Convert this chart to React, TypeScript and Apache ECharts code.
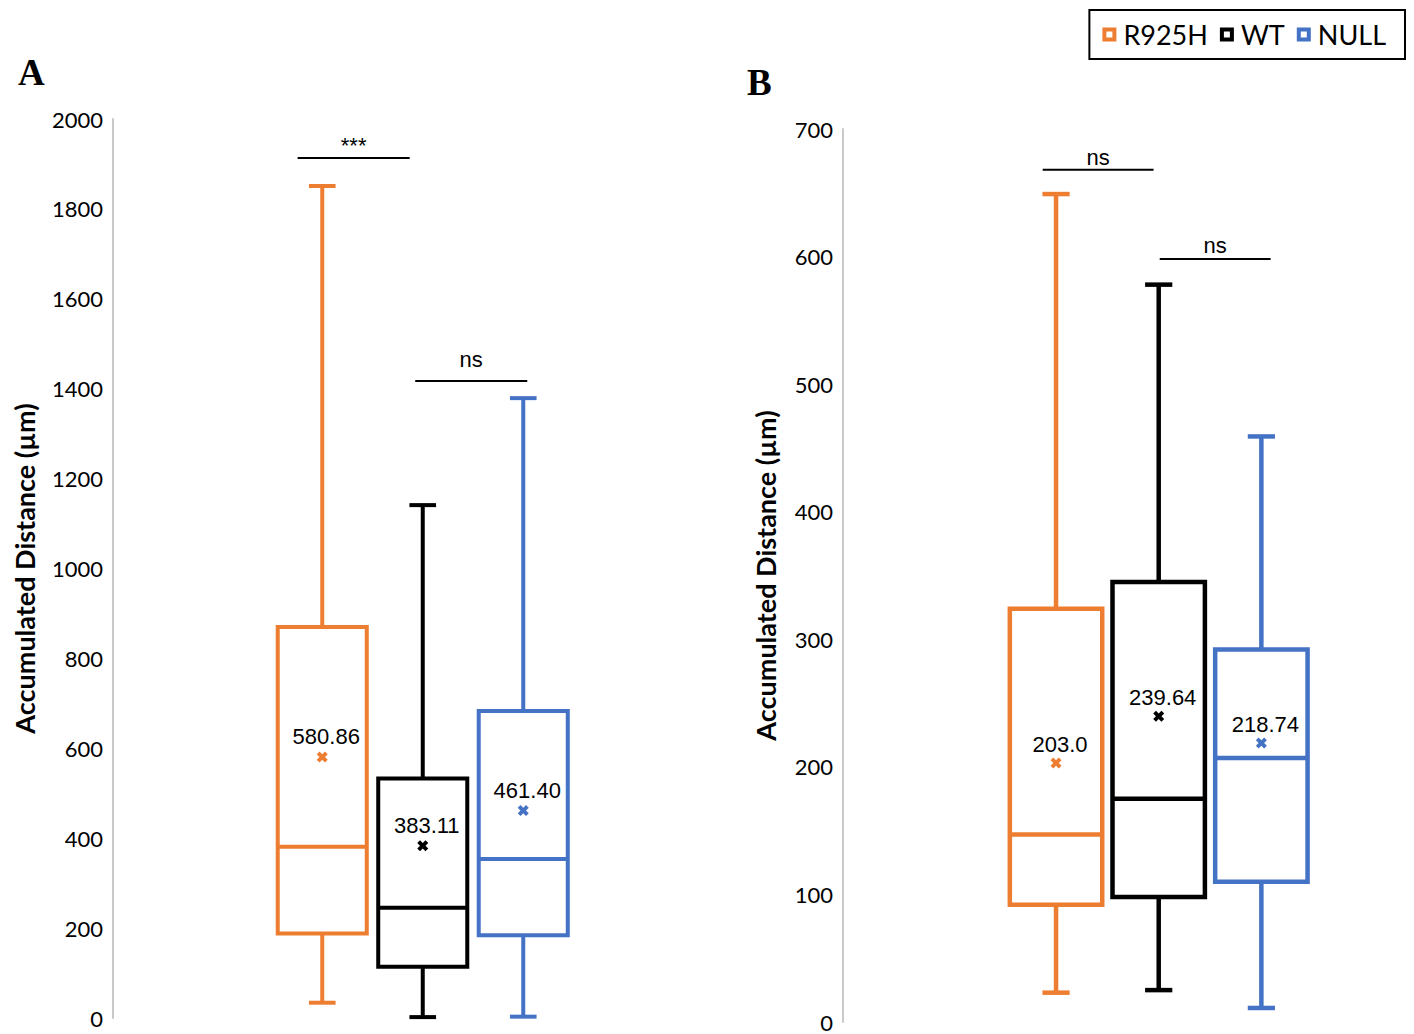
import React, { useEffect, useRef } from 'react';
import * as echarts from 'echarts';

// ---------- data ----------
const groups = ['R925H', 'WT', 'NULL'];
const groupColors = ['#ED7D31', '#000000', '#4472C4'];

// Panel A
const minA = [34, 2, 3];
const q1A = [188, 114, 184];
const medianA = [381, 245, 354];
const q3A = [870, 533, 683];
const maxA = [1851, 1141, 1379];
const meanA = [580.86, 383.11, 461.4];
const meanLabelA = ['580.86', '383.11', '461.40'];
const axisMaxA = 2000;
const axisStepA = 200;

// Panel B
const minB = [23, 25, 11];
const q1B = [92, 98, 110];
const medianB = [147, 175, 207];
const q3B = [324, 345, 292];
const maxB = [649, 578, 459];
const meanB = [203.0, 239.64, 218.74];
const meanLabelB = ['203.0', '239.64', '218.74'];
const axisMaxB = 700;
const axisStepB = 100;

// significance annotations (x in category units relative to first box, y in data units)
const sigTextA = ['***', 'ns'];
const sigFromA = [-0.245, 0.925];
const sigToA = [0.87, 2.04];
const sigLineA = [1913, 1417];
const sigLabelA = [1940, 1466];

const sigTextB = ['ns', 'ns'];
const sigFromB = [-0.13, 1.01];
const sigToB = [0.95, 2.09];
const sigLineB = [668, 598];
const sigLabelB = [678, 609];

const yTitle = 'Accumulated Distance (µm)';

const CROSS = 'path://M0,2.5 L2.5,0 L5,2.5 L7.5,0 L10,2.5 L7.5,5 L10,7.5 L7.5,10 L5,7.5 L2.5,10 L0,7.5 L2.5,5 Z';
const HOLLOW = 'path://M0,0H14V14H0Z M4,4V10H10V4Z';

function boxRenderer(boxRatio: number, capRatio: number, lw: number) {
  return (params: any, api: any) => {
    const c = api.value(0);
    const pMin = api.coord([c, api.value(1)]);
    const pQ1 = api.coord([c, api.value(2)]);
    const pMed = api.coord([c, api.value(3)]);
    const pQ3 = api.coord([c, api.value(4)]);
    const pMax = api.coord([c, api.value(5)]);
    const band = api.size([1, 0])[0];
    const bw = band * boxRatio;
    const cw = band * capRatio;
    const x = pMin[0];
    const color = api.visual('color');
    const ls = { stroke: color, lineWidth: lw, fill: 'none' };
    return {
      type: 'group',
      children: [
        { type: 'line', shape: { x1: x, y1: pMax[1], x2: x, y2: pQ3[1] }, style: ls },
        { type: 'line', shape: { x1: x, y1: pQ1[1], x2: x, y2: pMin[1] }, style: ls },
        { type: 'line', shape: { x1: x - cw / 2, y1: pMax[1], x2: x + cw / 2, y2: pMax[1] }, style: ls },
        { type: 'line', shape: { x1: x - cw / 2, y1: pMin[1], x2: x + cw / 2, y2: pMin[1] }, style: ls },
        {
          type: 'rect',
          shape: { x: x - bw / 2, y: pQ3[1], width: bw, height: pQ1[1] - pQ3[1] },
          style: { stroke: color, lineWidth: lw, fill: '#ffffff' },
        },
        { type: 'line', shape: { x1: x - bw / 2, y1: pMed[1], x2: x + bw / 2, y2: pMed[1] }, style: ls },
      ],
    };
  };
}

function sigRenderer(texts: string[]) {
  return (params: any, api: any) => {
    const p0 = api.coord([0, api.value(2)]);
    const band = api.size([1, 0])[0];
    const x1 = p0[0] + api.value(0) * band;
    const x2 = p0[0] + api.value(1) * band;
    const ty = api.coord([0, api.value(3)])[1];
    return {
      type: 'group',
      children: [
        { type: 'line', shape: { x1, y1: p0[1], x2, y2: p0[1] }, style: { stroke: '#000', lineWidth: 2 } },
        {
          type: 'text',
          x: (x1 + x2) / 2,
          y: ty,
          style: {
            text: texts[params.dataIndex],
            fill: '#000',
            fontSize: 22,
            fontFamily: 'Liberation Sans',
            align: 'center',
            verticalAlign: 'middle',
          },
        },
      ],
    };
  };
}

function panelSeries(
  idx: number,
  mins: number[], q1s: number[], meds: number[], q3s: number[], maxs: number[],
  means: number[], meanLabels: string[],
  sigFrom: number[], sigTo: number[], sigLine: number[], sigLabel: number[], sigText: string[],
  boxRatio: number, lw: number, labelDist: number
) {
  const s: any[] = groups.map((g, i) => ({
    type: 'custom',
    name: g,
    xAxisIndex: idx,
    yAxisIndex: idx,
    itemStyle: { color: groupColors[i] },
    renderItem: boxRenderer(boxRatio, 0.265, lw),
    encode: { x: 0, y: [1, 2, 3, 4, 5] },
    data: [[i, mins[i], q1s[i], meds[i], q3s[i], maxs[i]]],
    z: 2,
  }));
  s.push({
    type: 'scatter',
    name: 'mean' + idx,
    xAxisIndex: idx,
    yAxisIndex: idx,
    symbol: CROSS,
    symbolSize: 11,
    z: 5,
    itemStyle: { opacity: 1 },
    data: means.map((m, i) => ({ value: [i, m], itemStyle: { color: groupColors[i], opacity: 1 } })),
    label: {
      show: true,
      position: 'top',
      distance: labelDist,
      offset: [4, 0],
      color: '#000',
      opacity: 1,
      fontFamily: 'Liberation Sans',
      fontSize: 22,
      formatter: (p: any) => meanLabels[p.dataIndex],
    },
  });
  s.push({
    type: 'custom',
    name: 'sig' + idx,
    xAxisIndex: idx,
    yAxisIndex: idx,
    renderItem: sigRenderer(sigText),
    encode: { x: -1, y: [2, 3] },
    data: sigLine.map((y, i) => [sigFrom[i], sigTo[i], y, sigLabel[i]]),
    z: 3,
  });
  return s;
}

function yAxisDef(idx: number, max: number, step: number, offset: number, nameGap: number) {
  return {
    type: 'value',
    gridIndex: idx,
    min: 0,
    max,
    interval: step,
    offset,
    axisLine: { show: true, lineStyle: { color: '#c9c9c9', width: 2 } },
    axisTick: { show: false },
    splitLine: { show: false },
    axisLabel: {
      color: '#000',
      fontFamily: 'Lato',
      fontSize: 22,
      margin: 10,
      formatter: (v: number) => String(v),
    },
    name: yTitle,
    nameLocation: 'middle',
    nameRotate: 90,
    nameGap,
    nameTextStyle: { color: '#000', fontFamily: 'Lato', fontWeight: 'bold', fontSize: 27 },
  };
}

export default function App() {
  const ref = useRef<HTMLDivElement>(null);
  useEffect(() => {
    if (!ref.current) return;
    const chart = echarts.init(ref.current, null, { renderer: 'svg' });
    const option: any = {
      animation: false,
      backgroundColor: '#ffffff',
      title: [
        { text: 'A', left: 13, top: 49, textStyle: { fontFamily: 'Liberation Serif', fontWeight: 'bold', fontSize: 37, color: '#000' } },
        { text: 'B', left: 742, top: 59, textStyle: { fontFamily: 'Liberation Serif', fontWeight: 'bold', fontSize: 37, color: '#000' } },
      ],
      legend: {
        data: groups.map((name) => ({ name, icon: HOLLOW })),
        right: 9,
        top: 10,
        itemWidth: 14,
        itemHeight: 14,
        itemGap: 12,
        borderColor: '#000',
        borderWidth: 2,
        borderRadius: 0,
        padding: [11, 19, 11, 13],
        itemStyle: { borderWidth: 0 },
        selectedMode: false,
        textStyle: { fontFamily: 'Lato', fontSize: 27, color: '#000', padding: [0, 0, 0, 2] },
      },
      grid: [
        { left: 272, top: 119, width: 301.5, height: 899 },
        { left: 1004.7, top: 129, width: 308, height: 893 },
      ],
      xAxis: [
        { type: 'category', gridIndex: 0, data: groups, show: false },
        { type: 'category', gridIndex: 1, data: groups, show: false },
      ],
      yAxis: [
        yAxisDef(0, axisMaxA, axisStepA, 159, 75.5),
        yAxisDef(1, axisMaxB, axisStepB, 161.7, 64.5),
      ],
      series: [
        ...panelSeries(0, minA, q1A, medianA, q3A, maxA, meanA, meanLabelA,
          sigFromA, sigToA, sigLineA, sigLabelA, sigTextA, 0.886, 4, 4),
        ...panelSeries(1, minB, q1B, medianB, q3B, maxB, meanB, meanLabelB,
          sigFromB, sigToB, sigLineB, sigLabelB, sigTextB, 0.9, 4.5, 2),
      ],
    };
    chart.setOption(option);
    return () => chart.dispose();
  }, []);
  return (
    <div
      ref={ref}
      style={{ position: 'absolute', left: 0, top: 0, width: 1414, height: 1034, background: '#fff' }}
    />
  );
}
